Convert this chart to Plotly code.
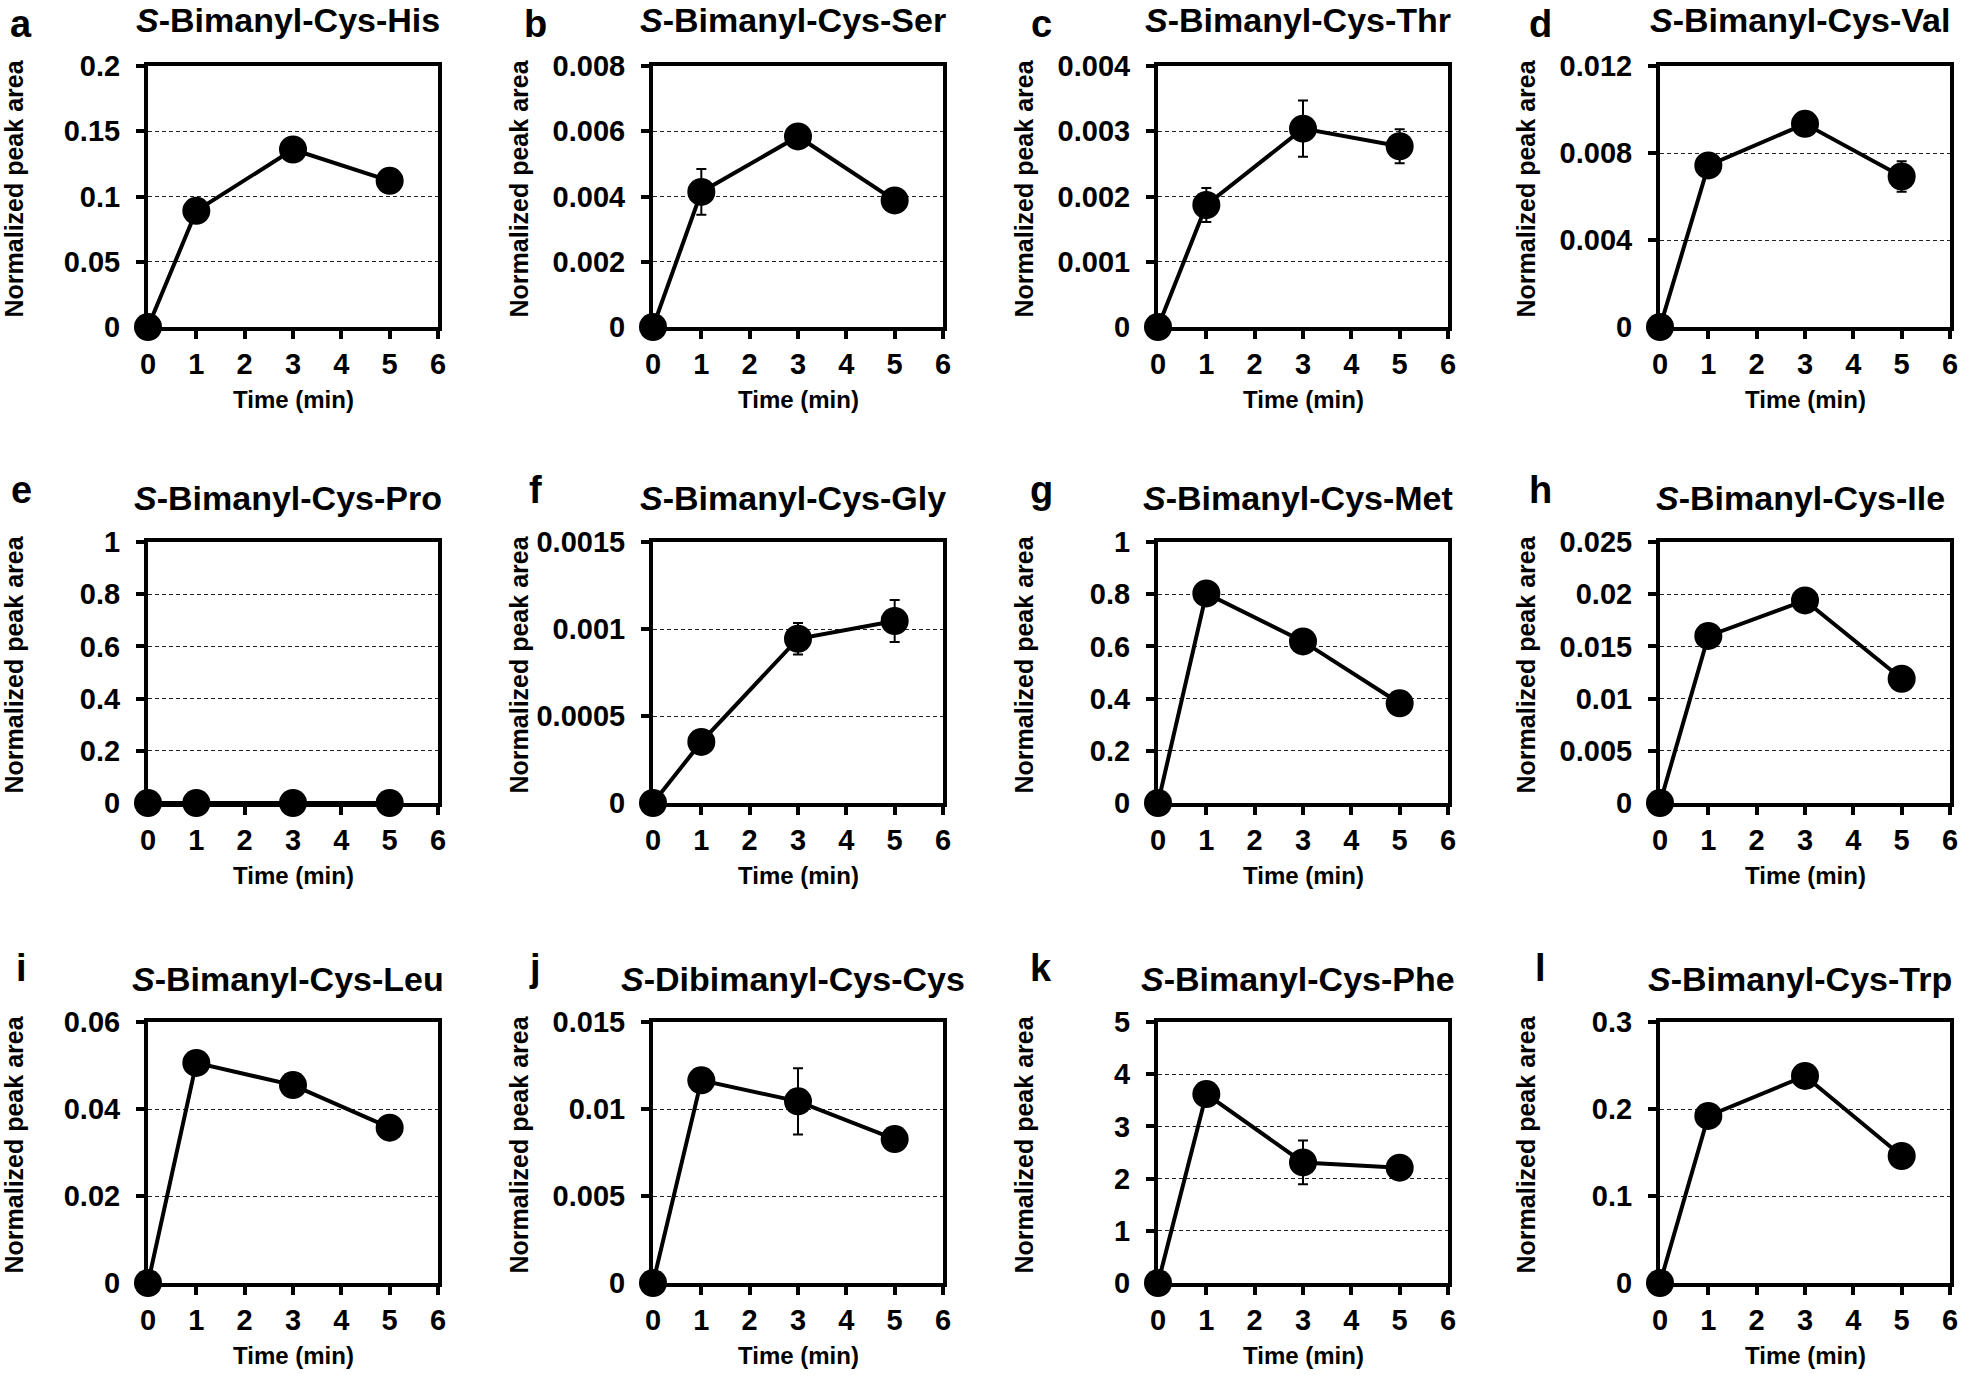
import plotly.graph_objects as go

W, H = 1961, 1375
FONT = "Liberation Sans, Arial, sans-serif"

# sampling times (min) and x-axis ticks
time_min = [0, 1, 3, 5]
time_ticks = [0, 1, 2, 3, 4, 5, 6]

# normalized peak areas (mean) and error bars
his = [0, 0.089, 0.136, 0.112]
his_err = [0, 0.002, 0.003, 0.003]
ser = [0, 0.00414, 0.00584, 0.00388]
ser_err = [0, 0.0007, 0.0001, 0.0001]
thr = [0, 0.00187, 0.00304, 0.00277]
thr_err = [0, 0.00026, 0.00043, 0.00026]
val = [0, 0.00743, 0.00934, 0.00692]
val_err = [0, 0.0001, 0.0002, 0.0007]
pro = [0, 0, 0, 0]
pro_err = [0, 0, 0, 0]
gly = [0, 0.000351, 0.000944, 0.001046]
gly_err = [0, 0.00002, 0.00009, 0.00012]
met = [0, 0.803, 0.619, 0.382]
met_err = [0, 0.01, 0.01, 0.01]
ile = [0, 0.0160, 0.0194, 0.0119]
ile_err = [0, 0.0002, 0.0002, 0.0002]
leu = [0, 0.0506, 0.0455, 0.0357]
leu_err = [0, 0.0005, 0.0005, 0.0005]
cyscys = [0, 0.01165, 0.01044, 0.00827]
cyscys_err = [0, 0.0003, 0.0019, 0.0002]
phe = [0, 3.62, 2.31, 2.21]
phe_err = [0, 0.1, 0.42, 0.08]
trp = [0, 0.192, 0.238, 0.146]
trp_err = [0, 0.002, 0.003, 0.003]

# y tick labels per panel
his_ticks = ["0", "0.05", "0.1", "0.15", "0.2"]
ser_ticks = ["0", "0.002", "0.004", "0.006", "0.008"]
thr_ticks = ["0", "0.001", "0.002", "0.003", "0.004"]
val_ticks = ["0", "0.004", "0.008", "0.012"]
pro_ticks = ["0", "0.2", "0.4", "0.6", "0.8", "1"]
gly_ticks = ["0", "0.0005", "0.001", "0.0015"]
met_ticks = ["0", "0.2", "0.4", "0.6", "0.8", "1"]
ile_ticks = ["0", "0.005", "0.01", "0.015", "0.02", "0.025"]
leu_ticks = ["0", "0.02", "0.04", "0.06"]
cyscys_ticks = ["0", "0.005", "0.01", "0.015"]
phe_ticks = ["0", "1", "2", "3", "4", "5"]
trp_ticks = ["0", "0.1", "0.2", "0.3"]

letters = ["a", "b", "c", "d", "e", "f", "g", "h", "i", "j", "k", "l"]
titles = ["<i>S</i>-Bimanyl-Cys-His", "<i>S</i>-Bimanyl-Cys-Ser", "<i>S</i>-Bimanyl-Cys-Thr",
          "<i>S</i>-Bimanyl-Cys-Val", "<i>S</i>-Bimanyl-Cys-Pro", "<i>S</i>-Bimanyl-Cys-Gly",
          "<i>S</i>-Bimanyl-Cys-Met", "<i>S</i>-Bimanyl-Cys-Ile", "<i>S</i>-Bimanyl-Cys-Leu",
          "<i>S</i>-Dibimanyl-Cys-Cys", "<i>S</i>-Bimanyl-Cys-Phe", "<i>S</i>-Bimanyl-Cys-Trp"]

panels = [
    (his, his_err, his_ticks), (ser, ser_err, ser_ticks), (thr, thr_err, thr_ticks), (val, val_err, val_ticks),
    (pro, pro_err, pro_ticks), (gly, gly_err, gly_ticks), (met, met_err, met_ticks), (ile, ile_err, ile_ticks),
    (leu, leu_err, leu_ticks), (cyscys, cyscys_err, cyscys_ticks), (phe, phe_err, phe_ticks), (trp, trp_err, trp_ticks),
]

# panel geometry in pixels
col_left = [148, 653, 1158, 1660]
row_top = [66, 542, 1022]
PW, PH = 290, 261
letter_x = [21, 535, 1041, 1540]
letter_y = [24, 490, 968]
title_y = [20, 498, 979]


def px(x):
    return x / W


def py(y):
    return 1 - y / H


fig = go.Figure()
annots = []
bold = dict(family=FONT, color="black", weight="bold")


def note(x, y, text, size, **kw):
    annots.append(dict(x=px(x), y=py(y), xref="paper", yref="paper", text=text, showarrow=False,
                       xanchor="center", yanchor="middle", font=dict(size=size, **bold), **kw))


for i, (vals, errs, ticks) in enumerate(panels):
    r, c = divmod(i, 4)
    n = "" if i == 0 else str(i + 1)
    x0, y0 = col_left[c], row_top[r]
    fig.add_trace(go.Scatter(
        x=time_min, y=vals, mode="lines+markers", xaxis="x" + n, yaxis="y" + n,
        line=dict(color="black", width=4),
        marker=dict(color="black", size=28),
        error_y=dict(type="data", array=errs, color="black", thickness=2, width=5, visible=True),
        cliponaxis=False, showlegend=False, hoverinfo="x+y",
    ))
    common = dict(showline=True, linecolor="black", linewidth=4, mirror=True,
                  ticks="outside", ticklen=8, tickwidth=4, tickcolor="black",
                  tickfont=dict(size=29, **bold), zeroline=False, fixedrange=True,
                  automargin=False)
    tv = [float(t) for t in ticks]
    fig.update_layout(**{
        "xaxis" + n: dict(domain=[px(x0), px(x0 + PW)], anchor="y" + n, range=[0, 6],
                          tickvals=time_ticks, showgrid=False, ticklabelstandoff=0, **common),
        "yaxis" + n: dict(domain=[py(y0 + PH), py(y0)], anchor="x" + n, range=[0, tv[-1]],
                          tickvals=tv, ticktext=ticks, showgrid=True, gridcolor="#222222",
                          gridwidth=1.2, griddash="4px,3px", ticklabelstandoff=10, **common),
    })
    note(letter_x[c], letter_y[r], letters[i], 38)
    note(x0 + PW / 2 - 5, title_y[r], titles[i], 34)
    note(x0 - 135, y0 + PH / 2 - 8, "Normalized peak area", 25, textangle=-90)
    note(x0 + PW / 2, y0 + PH + 72, "Time (min)", 24)

fig.update_layout(template="none", width=W, height=H, margin=dict(l=0, r=0, t=0, b=0),
                  paper_bgcolor="white", plot_bgcolor="white", annotations=annots,
                  font=dict(family=FONT, color="black"))
# drop the browser's default 8px body margin so the figure sits at the page corner
fig.write_html("out.html", config={"displayModeBar": False},
               post_script="document.body.style.margin='0';")
